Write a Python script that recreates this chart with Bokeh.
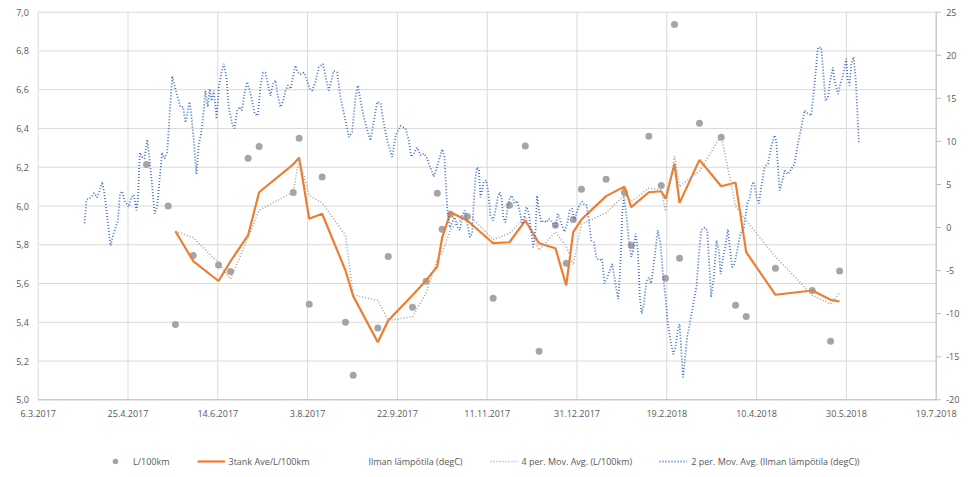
import math
import pandas as pd
from bokeh.plotting import figure
from bokeh.models import ColumnDataSource, Range1d, Legend, LegendItem
from bokeh.core.properties import value
from bokeh.embed import file_html
from bokeh.resources import INLINE

nan = math.nan

# Päivät lasketaan alkaen 6.3.2017
START = pd.Timestamp("2017-03-06")

# Tankkaukset: päivä, kulutus, 3 tankin keskiarvo, 4 jakson liukuva keskiarvo
fill_days = [60.3, 72.4, 76.4, 86.3, 100.4, 107.1, 116.9, 123.0, 142.0, 145.3,
             150.9, 158.1, 171.1, 175.4, 189.1, 194.9, 208.4, 216.0, 222.2, 224.9,
             229.6, 238.9, 253.3, 262.4, 271.2, 278.9, 288.0, 294.0, 297.9, 302.5,
             316.2, 326.4, 330.2, 340.0, 346.9, 349.3, 354.3, 357.1, 368.2, 380.3,
             388.3, 394.2, 410.5, 431.0, 441.2, 446.2]
l_per_100km = [6.214, 6.000, 5.389, 5.745, 5.695, 5.662, 6.247, 6.307, 6.070, 6.350,
               5.493, 6.149, 5.400, 5.127, 5.370, 5.740, 5.478, 5.612, 6.066, 5.880,
               5.958, 5.946, 5.524, 6.004, 6.309, 5.251, 5.901, 5.705, 5.930, 6.087,
               6.138, 6.070, 5.798, 6.360, 6.106, 5.627, 6.937, 5.731, 6.427, 6.355,
               5.488, 5.430, 5.679, 5.564, 5.302, 5.664]
tank3_avg = [nan, nan, 5.870, 5.716, 5.613, 5.715, 5.850, 6.071, 6.215, 6.249,
             5.934, 5.960, 5.667, 5.535, 5.297, 5.409, 5.540, 5.616, 5.688, 5.836,
             5.968, 5.925, 5.808, 5.813, 5.925, 5.808, 5.782, 5.590, 5.865, 5.930,
             6.051, 6.100, 5.994, 6.071, 6.076, 6.037, 6.218, 6.016, 6.238, 6.102,
             6.121, 5.762, 5.542, 5.564, 5.516, 5.507]
ma4_l_per_100km = [nan, nan, 5.870, 5.837, 5.707, 5.623, 5.837, 5.978, 6.072, 6.244,
                   6.055, 6.016, 5.848, 5.542, 5.512, 5.409, 5.429, 5.550, 5.724, 5.759,
                   5.879, 5.963, 5.827, 5.858, 5.946, 5.772, 5.866, 5.792, 5.697, 5.906,
                   5.965, 6.056, 6.023, 6.092, 6.084, 5.973, 6.258, 6.100, 6.181, 6.363,
                   6.000, 5.925, 5.738, 5.540, 5.494, 5.552]

# Ilman lämpötila, 2 jakson liukuva keskiarvo
temp_days = [
    25.8, 26.9, 28.2, 29.5, 31.0, 32.8, 34.3, 35.6, 36.9, 40.3,
    42.0, 44.4, 45.5, 46.8, 48.0, 49.5, 50.5, 51.8, 53.2, 54.7,
    55.5, 56.6, 57.9, 59.2, 60.7, 61.8, 63.5, 64.8, 66.2, 67.7,
    69.0, 70.3, 71.8, 74.6, 75.9, 77.4, 79.2, 80.7, 82.0, 83.0,
    84.2, 85.2, 86.6, 88.1, 89.4, 90.7, 92.2, 93.1, 94.4, 95.5,
    96.5, 97.8, 99.3, 100.6, 101.9, 103.3, 104.8, 106.1, 108.0, 109.3,
    110.8, 112.2, 113.5, 114.8, 116.3, 117.8, 119.1, 120.6, 122.3, 123.7,
    125.2, 126.5, 127.8, 129.3, 130.8, 132.1, 133.4, 134.9, 136.4, 137.7,
    139.0, 140.5, 141.9, 143.2, 144.5, 146.0, 147.9, 149.4, 151.2, 152.5,
    154.4, 156.2, 158.6, 160.5, 161.8, 164.6, 166.5, 168.3, 171.1, 173.0,
    174.8, 176.7, 178.0, 179.5, 181.3, 183.2, 185.0, 186.9, 188.8, 190.6,
    192.5, 194.3, 197.1, 199.0, 201.7, 204.5, 206.4, 207.7, 209.2, 211.0,
    212.9, 214.7, 216.2, 217.5, 220.3, 221.8, 225.0, 226.2, 227.7, 229.2,
    230.5, 231.8, 233.6, 234.8, 236.1, 237.5, 238.8, 240.3, 241.6, 242.6,
    243.5, 244.4, 245.3, 246.3, 248.1, 249.4, 250.5, 251.8, 253.3, 254.6,
    255.9, 257.0, 258.0, 258.9, 260.2, 261.5, 262.6, 263.9, 265.2, 266.7,
    268.2, 269.5, 270.4, 271.9, 273.2, 274.5, 275.6, 276.9, 277.8, 278.7,
    280.0, 281.5, 283.0, 284.3, 285.6, 288.0, 289.3, 290.4, 291.7, 293.0,
    294.5, 296.0, 297.3, 298.6, 300.1, 301.6, 302.9, 304.2, 305.3, 306.6,
    307.9, 309.4, 310.9, 312.7, 314.0, 315.3, 316.8, 318.3, 319.6, 320.9,
    322.0, 323.0, 324.2, 325.2, 326.1, 327.4, 328.9, 330.2, 331.3, 332.6,
    333.9, 335.0, 336.0, 337.2, 338.7, 340.0, 341.3, 342.8, 344.1, 345.0,
    346.5, 348.0, 349.3, 350.6, 352.1, 353.6, 354.8, 356.1, 357.1, 358.0,
    359.0, 360.1, 361.3, 362.8, 364.7, 366.5, 367.8, 369.1, 371.0, 372.5,
    373.4, 374.7, 376.2, 377.7, 379.0, 379.9, 381.4, 382.7, 384.0, 385.1,
    386.4, 387.7, 389.2, 391.0, 392.9, 394.8, 396.2, 397.5, 398.5, 400.0,
    401.3, 402.6, 404.4, 406.3, 408.1, 410.0, 410.9, 412.8, 414.3, 415.6,
    417.4, 419.3, 421.1, 423.0, 424.9, 426.7, 428.6, 430.4, 432.3, 434.1,
    436.0, 436.9, 438.4, 439.7, 441.0, 442.5, 443.4, 445.3, 446.6, 448.1,
    449.9, 450.8, 451.8, 452.7, 454.0, 455.1, 455.8, 457.0,
]
temp_ma2 = [
    0.5, 3.2, 3.4, 3.5, 4.0, 3.5, 4.3, 5.3, 3.9, -2.1,
    -0.7, 0.8, 3.9, 4.2, 3.1, 2.7, 2.4, 3.5, 3.8, 2.0,
    3.1, 8.7, 8.2, 8.0, 10.2, 8.4, 4.7, 1.6, 2.4, 5.8,
    8.7, 8.0, 8.7, 17.6, 16.5, 15.3, 14.0, 14.0, 12.2, 13.2,
    14.6, 13.2, 10.1, 6.2, 9.7, 10.9, 13.6, 15.9, 14.0, 16.1,
    14.7, 15.9, 12.6, 16.3, 17.8, 19.0, 17.5, 14.0, 12.0, 11.5,
    13.6, 14.0, 13.6, 15.5, 16.9, 15.9, 14.7, 13.2, 13.0, 16.3,
    18.0, 18.0, 16.7, 15.3, 16.7, 17.1, 15.3, 14.0, 14.7, 15.9,
    16.5, 16.1, 17.5, 18.8, 18.0, 17.8, 18.0, 17.3, 16.1, 15.9,
    16.9, 18.6, 19.0, 17.0, 15.9, 18.2, 18.0, 15.1, 12.4, 10.5,
    11.1, 15.1, 16.5, 14.7, 12.8, 11.3, 10.1, 12.4, 14.6, 14.4,
    12.0, 10.1, 8.2, 10.7, 11.8, 11.5, 10.1, 8.2, 8.6, 9.3,
    8.4, 8.6, 8.2, 7.4, 5.9, 6.9, 9.1, 8.2, 2.4, 0.0,
    0.6, 1.2, 0.0, -0.3, 1.4, 2.0, 0.6, -1.1, -0.7, 3.1,
    5.8, 7.0, 6.8, 3.5, 5.3, 5.5, 4.3, 1.4, 0.8, 2.0,
    3.5, 4.1, 3.5, 1.2, 0.6, 2.4, 3.5, 3.7, 2.8, 3.1,
    1.8, 0.4, 1.0, 2.4, 1.6, -0.5, -2.3, -0.3, 3.7, 2.2,
    0.6, 0.8, 0.6, 1.0, 0.8, 0.0, 1.6, 1.0, 0.2, -0.5,
    0.4, 2.0, 2.2, 0.8, 2.0, 2.7, 3.0, 2.6, 2.6, 0.8,
    -1.5, -1.7, -3.6, -3.8, -3.6, -6.5, -5.8, -5.0, -4.2, -5.8,
    -7.3, -8.3, -4.2, 1.6, 3.5, 1.6, -1.5, -3.4, -2.7, -0.7,
    -2.7, -8.1, -10.0, -8.9, -6.2, -5.8, -6.5, -4.2, -1.9, -0.3,
    -1.9, -5.8, -8.1, -11.2, -13.1, -14.7, -13.9, -12.0, -11.2, -13.9,
    -17.4, -15.4, -12.7, -11.2, -8.9, -6.9, -3.4, -0.3, 0.0, -0.3,
    -3.4, -8.1, -5.8, -1.5, -2.7, -5.4, -3.4, -2.1, -0.2, -2.3,
    -4.6, -4.2, -2.7, -0.7, 0.0, 2.7, 3.5, 5.1, 5.3, 3.5,
    2.8, 4.7, 7.0, 7.4, 9.3, 10.7, 10.1, 4.3, 5.4, 6.6,
    6.2, 6.8, 7.4, 9.7, 11.6, 13.6, 13.2, 13.0, 16.7, 20.9,
    20.9, 18.6, 14.7, 15.1, 17.1, 18.6, 17.1, 15.5, 16.7, 17.6,
    19.6, 17.1, 16.5, 19.0, 19.8, 17.5, 14.7, 9.7,
]

x_tick_labels = ["6.3.2017", "25.4.2017", "14.6.2017", "3.8.2017", "22.9.2017",
                 "11.11.2017", "31.12.2017", "19.2.2018", "10.4.2018", "30.5.2018",
                 "19.7.2018"]
y_ticks = [5.0, 5.2, 5.4, 5.6, 5.8, 6.0, 6.2, 6.4, 6.6, 6.8, 7.0]
temp_ticks = [-20, -15, -10, -5, 0, 5, 10, 15, 20, 25]

FONT = value("Open Sans")
TEXT = "#595959"
GRID = "#d9d9d9"
AXIS = "#bfbfbf"

# kuvan mitat ja piirtoalueen reunat (px)
W, H = 979, 477
PLOT_L, PLOT_R, PLOT_T, PLOT_B = 37.7, 935.7, 11.7, 399.3


def to_dates(days):
    return START + pd.to_timedelta(days, unit="D")


def to_ms(ts):
    return (ts - pd.Timestamp("1970-01-01")) // pd.Timedelta(milliseconds=1)


fills = ColumnDataSource(data=dict(
    date=to_dates(fill_days), l100=l_per_100km, tank3=tank3_avg, ma4=ma4_l_per_100km))
temps = ColumnDataSource(data=dict(date=to_dates(temp_days), temp=temp_ma2))

x_ticks = [int(to_ms(pd.to_datetime(t, format="%d.%m.%Y"))) for t in x_tick_labels]
t0, t1 = x_ticks[0], x_ticks[-1]
y0, y1 = y_ticks[0], y_ticks[-1]
c0, c1 = temp_ticks[0], temp_ticks[-1]

# koko kuva on piirtoaluetta; akselit ja selite piirretään sen sisään
ms_px = (t1 - t0) / (PLOT_R - PLOT_L)
y_px = (y1 - y0) / (PLOT_B - PLOT_T)
c_px = (c1 - c0) / (PLOT_B - PLOT_T)

p = figure(width=W, height=H, x_axis_type="datetime",
           x_range=Range1d(t0 - PLOT_L * ms_px, t1 + (W - PLOT_R) * ms_px),
           y_range=Range1d(y0 - (H - PLOT_B) * y_px, y1 + PLOT_T * y_px),
           x_axis_location=None, y_axis_location=None,
           toolbar_location=None, tools="", output_backend="svg", min_border=0)
p.min_border_left = p.min_border_right = p.min_border_top = p.min_border_bottom = 0
p.grid.visible = False
p.outline_line_color = None
p.background_fill_color = "white"
p.border_fill_color = "white"
p.extra_y_ranges = {"temp": Range1d(c0 - (H - PLOT_B) * c_px, c1 + PLOT_T * c_px)}

# ruudukko
p.segment(x0=t0, x1=t1, y0=y_ticks, y1=y_ticks, line_color=GRID, line_width=1)
p.segment(x0=x_ticks, x1=x_ticks, y0=y0, y1=y1, line_color=GRID, line_width=1)

r_pts = p.scatter("date", "l100", source=fills, size=7, color="#a5a5a5", line_color=None)
r_tank = p.line("date", "tank3", source=fills, line_color="#ed7d31", line_width=2.2)
r_air = p.line(x=[], y=[], line_alpha=0, y_range_name="temp")
r_ma4 = p.line("date", "ma4", source=fills, line_color="#a5a5a5", line_width=1.6,
               line_dash="1 2")
r_ma2 = p.line("date", "temp", source=temps, y_range_name="temp", line_color="#4472c4",
               line_width=1.8, line_dash="1 2")

# akseliviivat ja oikean akselin merkit
p.segment(x0=[t0], x1=[t1], y0=[y0], y1=[y0], line_color=AXIS, line_width=1)
p.segment(x0=[t1], x1=[t1], y0=[c0], y1=[c1], line_color=AXIS, line_width=1,
          y_range_name="temp")
p.ray(x=[t1] * len(temp_ticks), y=temp_ticks, length=5, length_units="screen", angle=0,
      line_color=AXIS, line_width=1, y_range_name="temp")

# akselien tekstit
label_style = dict(text_font=FONT, text_font_size="9px", text_color=TEXT,
                   text_baseline="middle")
p.text(x=x_ticks, y=[y0] * len(x_ticks), text=x_tick_labels, y_offset=13.4,
       text_align="center", **label_style)
p.text(x=[t0] * len(y_ticks), y=y_ticks,
       text=[f"{v:.1f}".replace(".", ",") for v in y_ticks], x_offset=-9.4,
       text_align="right", **label_style)
p.text(x=[t1] * len(temp_ticks), y=temp_ticks, text=[str(v) for v in temp_ticks],
       x_offset=10, text_align="left", y_range_name="temp", **label_style)

legend = Legend(items=[
    LegendItem(label="L/100km", renderers=[r_pts]),
    LegendItem(label="3tank Ave/L/100km", renderers=[r_tank]),
    LegendItem(label="Ilman lämpötila (degC)", renderers=[r_air]),
    LegendItem(label="4 per. Mov. Avg. (L/100km)", renderers=[r_ma4]),
    LegendItem(label="2 per. Mov. Avg. (Ilman lämpötila (degC))", renderers=[r_ma2]),
], orientation="horizontal", location=(101, 9))
legend.label_text_font = "Open Sans"
legend.label_text_font_size = "9px"
legend.label_text_color = TEXT
legend.glyph_width = 28
legend.glyph_height = 14
legend.label_height = 14
legend.label_standoff = 4
legend.spacing = 27
legend.padding = 0
legend.margin = 0
legend.border_line_color = None
legend.background_fill_alpha = 0
p.add_layout(legend, "center")

open("out.html", "w").write(file_html(p, INLINE))
